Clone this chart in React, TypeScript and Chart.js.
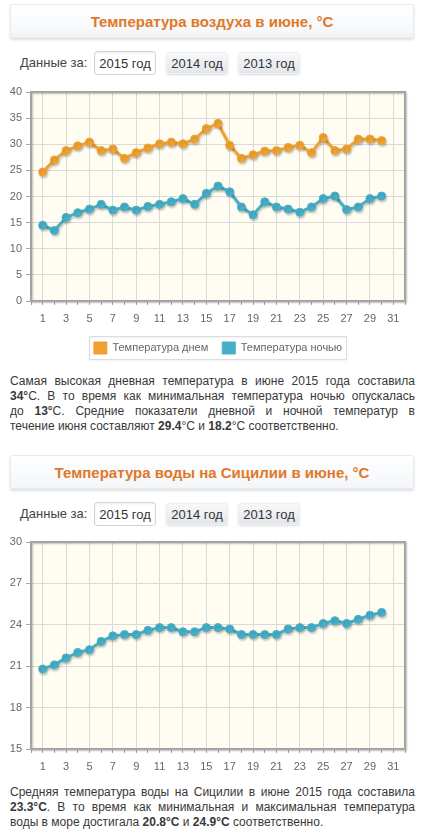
import React, { useEffect, useRef } from "react";
import { Chart, registerables } from "chart.js";

Chart.register(...registerables);

// ---------- data ----------
const days = [1, 2, 3, 4, 5, 6, 7, 8, 9, 10, 11, 12, 13, 14, 15, 16, 17, 18, 19, 20, 21, 22, 23, 24, 25, 26, 27, 28, 29, 30];
const dayTemps = [24.7, 27.0, 28.8, 29.7, 30.4, 28.8, 29.1, 27.3, 28.4, 29.3, 30.1, 30.4, 30.1, 31.0, 33.0, 34.0, 29.8, 27.3, 28.0, 28.7, 28.8, 29.4, 29.8, 28.4, 31.3, 28.8, 29.1, 31.0, 31.0, 30.7];
const nightTemps = [14.5, 13.5, 16.0, 16.9, 17.6, 18.5, 17.4, 18.0, 17.4, 18.1, 18.5, 19.0, 19.6, 18.5, 20.6, 22.0, 20.9, 18.0, 16.5, 19.0, 18.0, 17.6, 17.0, 18.0, 19.6, 20.1, 17.5, 18.0, 19.6, 20.1];
const waterTemps = [20.8, 21.1, 21.6, 22.0, 22.2, 22.8, 23.2, 23.3, 23.3, 23.6, 23.8, 23.8, 23.5, 23.5, 23.8, 23.8, 23.7, 23.3, 23.3, 23.3, 23.3, 23.7, 23.8, 23.8, 24.1, 24.3, 24.1, 24.4, 24.7, 24.9];
const xTickValues = [0, 1, 2, 3, 4, 5, 6, 7, 8, 9, 10, 11, 12, 13, 14, 15, 16, 17, 18, 19, 20, 21, 22, 23, 24, 25, 26, 27, 28, 29, 30, 31, 32];
const airYTicks = [0, 5, 10, 15, 20, 25, 30, 35, 40];
const waterYTicks = [15, 18, 21, 24, 27, 30];
const years = ["2015 год", "2014 год", "2013 год"];
const seriesLabels = ["Температура днем", "Температура ночью"];

const ORANGE = "#F0A230";
const BLUE = "#46AFC8";
const FONT = "Arial, 'Liberation Sans', sans-serif";

// ---------- plugins ----------
const plotFrame = {
  id: "plotFrame",
  beforeDraw(chart: any) {
    const { ctx, chartArea } = chart;
    const { left, top, right, bottom } = chartArea;
    ctx.save();
    ctx.fillStyle = "#FFFDF1";
    ctx.fillRect(left, top, right - left, bottom - top);
    ctx.restore();
  },
  beforeDatasetsDraw(chart: any) {
    const { ctx, chartArea } = chart;
    const { left, top, right, bottom } = chartArea;
    ctx.save();
    ctx.shadowColor = "rgba(0,0,0,0.25)";
    ctx.shadowBlur = 2;
    ctx.shadowOffsetX = 1;
    ctx.shadowOffsetY = 1;
    ctx.strokeStyle = "#a4a4a4";
    ctx.lineWidth = 2;
    ctx.strokeRect(left, top, right - left, bottom - top);
    ctx.restore();
  },
};

const lineShadow = {
  id: "lineShadow",
  beforeDatasetDraw(chart: any) {
    const ctx = chart.ctx;
    ctx.save();
    ctx.shadowColor = "rgba(0,0,0,0.18)";
    ctx.shadowBlur = 2;
    ctx.shadowOffsetX = 1;
    ctx.shadowOffsetY = 2;
  },
  afterDatasetDraw(chart: any) {
    chart.ctx.restore();
  },
};

const legendFrame = {
  id: "legendFrame",
  afterDraw(chart: any) {
    const L = chart.legend;
    if (!L || !L.options.display || !L.lineWidths) return;
    const p = L.options.labels.padding;
    const lw = L.lineWidths[0];
    const x0 = (L.left + p + L.right - lw) / 2;
    const x1 = x0 + lw - p;
    const y0 = L.top + p;
    const ih = 12;
    const ctx = chart.ctx;
    ctx.save();
    ctx.shadowColor = "rgba(0,0,0,0.08)";
    ctx.shadowBlur = 2;
    ctx.shadowOffsetY = 1;
    ctx.strokeStyle = "#dddddd";
    ctx.lineWidth = 1;
    ctx.strokeRect(Math.round(x0 - 5) + 0.5, Math.round(y0 - 6) + 0.5, Math.round(x1 - x0 + 9), ih + 11);
    ctx.restore();
  },
};

function makeOptions(yMin: number, yMax: number, yTicks: number[], showLegend: boolean) {
  return {
    responsive: false,
    animation: false as const,
    events: [] as any[],
    devicePixelRatio: 1,
    layout: { padding: { top: 12, right: 19, left: 0, bottom: 0 } },
    plugins: {
      tooltip: { enabled: false },
      legend: {
        display: showLegend,
        position: "bottom" as const,
        fullSize: false,
        labels: {
          boxWidth: 13,
          boxHeight: 12,
          padding: 14,
          color: "#666",
          font: { size: 11, family: FONT },
          generateLabels: (chart: any) =>
            chart.data.datasets.map((ds: any, i: number) => ({
              text: ds.label,
              fillStyle: ds.backgroundColor,
              strokeStyle: ds.backgroundColor,
              lineWidth: 1,
              hidden: false,
              datasetIndex: i,
              fontColor: "#666",
            })),
        },
      },
    },
    scales: {
      x: {
        type: "linear" as const,
        min: 0,
        max: 32,
        afterBuildTicks: (scale: any) => {
          scale.ticks = xTickValues.map((v) => ({ value: v }));
        },
        afterFit: (scale: any) => {
          scale.height = 27;
        },
        border: { display: false },
        grid: {
          color: (c: any) => (c.tick && c.tick.value % 2 === 1 ? "#dadada" : "rgba(0,0,0,0)"),
          tickColor: "#a8a8a8",
          tickLength: 4,
          lineWidth: 1,
        },
        ticks: {
          autoSkip: false,
          maxRotation: 0,
          padding: 7,
          color: "#666",
          font: { size: 11, family: FONT },
          callback: (v: any) => (Number(v) % 2 === 1 ? String(v) : ""),
        },
      },
      y: {
        type: "linear" as const,
        min: yMin,
        max: yMax,
        afterBuildTicks: (scale: any) => {
          scale.ticks = yTicks.map((v) => ({ value: v }));
        },
        afterFit: (scale: any) => {
          scale.width = 31;
        },
        border: { display: false },
        grid: {
          color: "#dadada",
          tickColor: "#a8a8a8",
          tickLength: 5,
          lineWidth: 1,
        },
        ticks: {
          padding: 4,
          color: "#666",
          font: { size: 11, family: FONT },
        },
      },
    },
  };
}

function seriesDataset(label: string, values: number[], color: string) {
  return {
    label,
    data: days.map((d, i) => ({ x: d, y: values[i] })),
    borderColor: color,
    backgroundColor: color,
    borderWidth: 3,
    pointRadius: 4,
    pointBorderWidth: 1,
    pointBackgroundColor: color,
    pointBorderColor: color,
    tension: 0,
    fill: false,
  };
}

function AirChart() {
  const ref = useRef<HTMLCanvasElement | null>(null);
  useEffect(() => {
    if (!ref.current) return;
    const chart = new Chart(ref.current, {
      type: "line",
      data: {
        datasets: [
          seriesDataset(seriesLabels[0], dayTemps, ORANGE),
          seriesDataset(seriesLabels[1], nightTemps, BLUE),
        ],
      },
      options: makeOptions(0, 40, airYTicks, true) as any,
      plugins: [plotFrame, lineShadow, legendFrame],
    });
    return () => chart.destroy();
  }, []);
  return (
    <canvas
      ref={ref}
      width={424}
      height={284}
      style={{ position: "absolute", left: 0, top: 80, width: 424, height: 284 }}
    />
  );
}

function WaterChart() {
  const ref = useRef<HTMLCanvasElement | null>(null);
  useEffect(() => {
    if (!ref.current) return;
    const chart = new Chart(ref.current, {
      type: "line",
      data: {
        datasets: [seriesDataset("Температура воды", waterTemps, BLUE)],
      },
      options: makeOptions(15, 30, waterYTicks, false) as any,
      plugins: [plotFrame, lineShadow],
    });
    return () => chart.destroy();
  }, []);
  return (
    <canvas
      ref={ref}
      width={424}
      height={246}
      style={{ position: "absolute", left: 0, top: 530, width: 424, height: 246 }}
    />
  );
}

function TitleBox({ top, text }: { top: number; text: string }) {
  return (
    <div
      style={{
        position: "absolute",
        left: 10,
        top,
        width: 404,
        height: 34,
        boxSizing: "border-box",
        border: "1px solid #e9ecef",
        borderRadius: 2,
        background: "linear-gradient(#ffffff, #f3f6f9)",
        boxShadow: "0 2px 3px rgba(0,0,0,0.13)",
        display: "flex",
        alignItems: "center",
        justifyContent: "center",
        color: "#E07828",
        fontWeight: "bold",
        fontSize: 15,
        fontFamily: FONT,
      }}
    >
      {text}
    </div>
  );
}

function YearRow({ top }: { top: number }) {
  const lefts = [94, 166, 238];
  return (
    <>
      <div
        style={{
          position: "absolute",
          left: 20,
          top: top + 3,
          fontSize: 13,
          color: "#444",
          fontFamily: FONT,
          lineHeight: "16px",
        }}
      >
        Данные за:
      </div>
      {years.map((y, i) => (
        <div
          key={y}
          style={{
            position: "absolute",
            left: lefts[i],
            top: i === 0 ? top - 1 : top,
            width: 62,
            height: i === 0 ? 24 : 22,
            boxSizing: "border-box",
            border: i === 0 ? "1px solid #d4d4d4" : "1px solid #eef0f2",
            borderRadius: 3,
            background: i === 0 ? "#ffffff" : "linear-gradient(#f7f8fa, #e3e7eb)",
            boxShadow: i === 0 ? "inset 0 1px 2px rgba(0,0,0,0.08)" : "0 1px 2px rgba(0,0,0,0.15)",
            display: "flex",
            alignItems: "center",
            justifyContent: "center",
            fontSize: 13,
            color: "#333",
            fontFamily: FONT,
          }}
        >
          {y}
        </div>
      ))}
    </>
  );
}

const lineStyle: React.CSSProperties = {
  textAlign: "justify",
  textAlignLast: "justify" as any,
  whiteSpace: "nowrap",
  height: 15,
};
const lastLineStyle: React.CSSProperties = { whiteSpace: "nowrap", height: 15 };

function Paragraph({ top, lines }: { top: number; lines: React.ReactNode[] }) {
  return (
    <div
      style={{
        position: "absolute",
        left: 10,
        top,
        width: 405,
        fontSize: 12,
        lineHeight: "15px",
        color: "#383838",
        fontFamily: FONT,
      }}
    >
      {lines.map((l, i) => (
        <div key={i} style={i === lines.length - 1 ? lastLineStyle : lineStyle}>
          {l}
        </div>
      ))}
    </div>
  );
}

export default function App() {
  const p1 = [
    <>Самая высокая дневная температура в июне 2015 года составила</>,
    <>
      <b>34°</b>C. В то время как минимальная температура ночью опускалась
    </>,
    <>
      до <b>13°</b>C. Средние показатели дневной и ночной температур в
    </>,
    <>
      течение июня составляют <b>29.4</b>°C и <b>18.2</b>°C соответственно.
    </>,
  ];
  const p2 = [
    <>Средняя температура воды на Сицилии в июне 2015 года составила</>,
    <>
      <b>23.3°C</b>. В то время как минимальная и максимальная температура
    </>,
    <>
      воды в море достигала <b>20.8°C</b> и <b>24.9°C</b> соответственно.
    </>,
  ];
  return (
    <div
      style={{
        position: "absolute",
        left: 0,
        top: 0,
        width: 424,
        height: 833,
        background: "#fff",
        overflow: "hidden",
      }}
    >
      <TitleBox top={4} text="Температура воздуха в июне, °C" />
      <YearRow top={52} />
      <AirChart />
      <Paragraph top={374} lines={p1} />
      <TitleBox top={455} text="Температура воды на Сицилии в июне, °C" />
      <YearRow top={503} />
      <WaterChart />
      <Paragraph top={785} lines={p2} />
    </div>
  );
}
